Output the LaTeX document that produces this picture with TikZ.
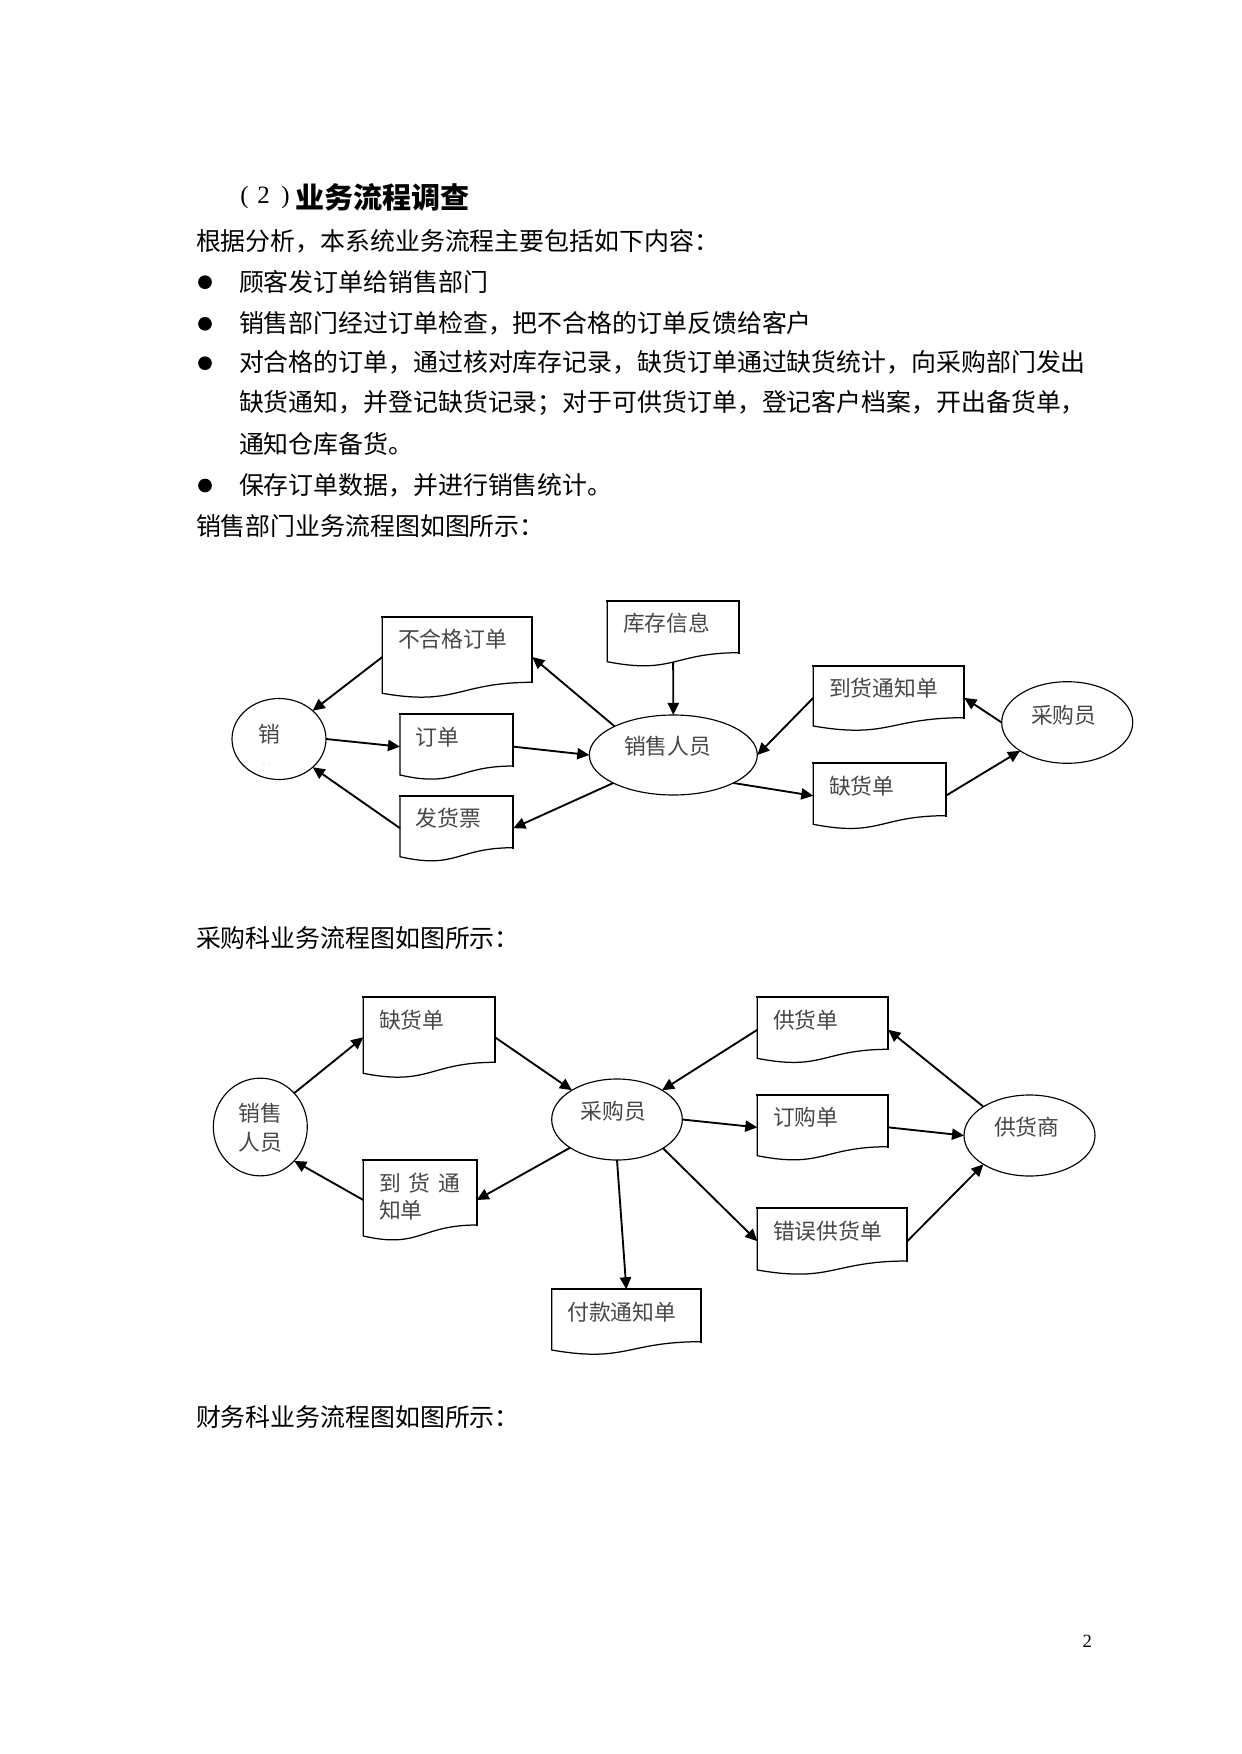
\documentclass[tikz,border=0pt]{standalone}
\usepackage{fontspec}
\setmainfont{Liberation Serif}
\newfontfamily\cjk{Noto Sans CJK SC}
\usetikzlibrary{shapes.geometric,arrows.meta,calc}
\def\pxu{0.4818pt}
\tikzset{
  lbl/.style={inner sep=0pt, outer sep=0pt, font=\cjk\fontsize{10.5pt}{14pt}\selectfont, text=black!72},
  body/.style={inner sep=0pt, outer sep=0pt, anchor=west, font=\cjk\fontsize{12pt}{14pt}\selectfont, text=black},
  ell/.style={ellipse, draw, line width=0.55pt, inner sep=0pt, outer sep=0pt},
  anchorbox/.style={rectangle, inner sep=0pt, outer sep=0pt},
  docthin/.style={line width=0.6pt, line join=miter},
  docthick/.style={line width=1.05pt, line join=miter, line cap=rect},
  flow/.style={line width=0.9pt, -{Triangle[length=5.8pt,width=5.4pt]}},
  bulletdot/.style={circle, fill=black, inner sep=0pt, outer sep=0pt, minimum size=13.7*\pxu},
}
% #1 name, #2 left, #3 top, #4 right, #5 right-bottom y, #6 left-bottom y
\newcommand\docu[6]{%
  \node[anchorbox, anchor=north west, minimum width={(#4-#2)*\pxu}, minimum height={(#6+4-#3)*\pxu}] (#1) at (#2,#3) {};
  \draw[docthin] (#2,#3) -- (#2,#6) .. controls ({(#2+#4)/2},{#6+13}) and ({(#2+#4)/2},{#5}) .. (#4,#5) -- (#4,#3) -- cycle;
  \draw[docthick] (#2,#3) -- (#4,#3) -- (#4,#5);
}
\newcommand\doctext[2]{\node[lbl, anchor=west] (#1-t) at ($(#1.north west)+(15.7,22.5)$) {#2};}
\begin{document}
\begin{tikzpicture}[x=0.4818pt, y=-0.4818pt]
\fill[white] (0,0) rectangle (1241,1754);
\useasboundingbox (0,0) rectangle (1241,1754);

% ---------- text ----------
\node[inner sep=0pt, anchor=west, font=\fontsize{12pt}{14pt}\selectfont] (hnum) at (240,197.3) {(\hspace{4.2pt}2\hspace{5.6pt})};
\node[inner sep=0pt, anchor=west, font=\cjk\bfseries\fontsize{14pt}{16pt}\selectfont] (htitle) at (295,197.3) {业务流程调查};
\node[body] (p1) at (196,241.7) {根据分析，本系统业务流程主要包括如下内容：};
\node[bulletdot] (b1) at (205,282.2) {};
\node[body] (p2) at (239,281.7) {顾客发订单给销售部门};
\node[bulletdot] (b2) at (205,323.8) {};
\node[body] (p3) at (239,323.3) {销售部门经过订单检查，把不合格的订单反馈给客户};
\node[bulletdot] (b3) at (205,363.2) {};
\node[body] (p4) at (239,362.7) {对合格的订单，通过核对库存记录，缺货订单通过缺货统计，向采购部门发出};
\node[body] (p5) at (239,403.3) {缺货通知，并登记缺货记录；对于可供货订单，登记客户档案，开出备货单，};
\node[body] (p6) at (239,444) {通知仓库备货。};
\node[bulletdot] (b4) at (205,485.5) {};
\node[body] (p7) at (239,485) {保存订单数据，并进行销售统计。};
\node[body] (p8) at (196,526) {销售部门业务流程图如图所示：};
\node[body] (p9) at (196,938.3) {采购科业务流程图如图所示：};
\node[body] (p10) at (196,1417.3) {财务科业务流程图如图所示：};
\node[inner sep=0pt, font=\fontsize{9pt}{11pt}\selectfont] (pg) at (1087.2,1641.7) {2};

% ---------- diagram 1 ----------
\docu{d1}{382.3}{616.7}{532.3}{682.3}{693.3}
\docu{d2}{400}{714.3}{513.3}{766}{775}
\docu{d3}{400}{795.7}{513.3}{847.7}{856.7}
\docu{d4}{607.3}{600.7}{739}{652.7}{661.7}
\docu{d5}{813.3}{665.7}{964.3}{717.7}{726}
\docu{d6}{813.3}{763.3}{945.7}{815.7}{824.3}
\doctext{d1}{不合格订单}
\doctext{d2}{订单}
\doctext{d3}{发货票}
\doctext{d4}{库存信息}
\doctext{d5}{到货通知单}
\doctext{d6}{缺货单}

\node[ell, minimum width=94*\pxu, minimum height=81*\pxu] (c1) at (279,739) {};
\node[ell, minimum width=168*\pxu, minimum height=80*\pxu] (sp) at (673.3,755) {};
\node[ell, minimum width=131*\pxu, minimum height=81.6*\pxu] (cg) at (1067.2,722.5) {};
\node[lbl] (c1-t) at (269,734) {销};
\begin{scope}
  \clip (240,745) rectangle (300,764.2);
  \node[lbl] (c1-t2) at (269,775) {售};
\end{scope}
\node[lbl] (sp-t) at (667.7,746.7) {销售人员};
\node[lbl] (cg-t) at (1063.8,715) {采购员};

\draw[flow] (d1.west) -- (c1.40.9);
\draw[flow] (c1.east) -- (d2.west);
\draw[flow] (d2.east) -- (sp.west);
\draw[flow] (d3.west) -- (c1.320.9);
\draw[flow] (sp.205.6) -- (d3.east);
\draw[flow] (sp.154.2) -- (d1.east);
\draw[flow] ($(d4.south)+(0,-3.6)$) -- (sp.north);
\draw[flow] (d5.west) -- (sp.east);
\draw[flow] (cg.west) -- (d5.east);
\draw[flow] (sp.335.4) -- (d6.west);
\draw[flow] (d6.east) -- (cg.211.7);

% ---------- diagram 2 ----------
\docu{e1}{363.3}{997.3}{495}{1062.3}{1073.3}
\docu{e2}{363.3}{1160}{476.7}{1225}{1236}
\docu{e4}{551.7}{1289.3}{701}{1341.7}{1350}
\docu{e5}{757.3}{997.3}{888.3}{1049.3}{1058.3}
\docu{e6}{757.3}{1095}{888.3}{1146.7}{1155.7}
\docu{e7}{757.3}{1208.3}{907.3}{1261}{1270}
\doctext{e1}{缺货单}
\doctext{e4}{付款通知单}
\doctext{e5}{供货单}
\doctext{e6}{订购单}
\doctext{e7}{错误供货单}
\node[lbl, anchor=west] (e2-t1) at ($(e2.north west)+(15.7,22.7)$) {到\hspace{3.85pt}货\hspace{3.85pt}通};
\node[lbl, anchor=west] (e2-t2) at ($(e2.north west)+(15.7,50)$) {知单};

\node[ell, minimum width=94*\pxu, minimum height=97.7*\pxu] (c2) at (260.3,1127) {};
\node[ell, minimum width=130.6*\pxu, minimum height=81*\pxu] (e3) at (617,1119.5) {};
\node[ell, minimum width=131*\pxu, minimum height=81*\pxu] (e8) at (1029.5,1135.5) {};
\node[lbl, align=center] (c2-t) at (260.5,1127.8) {销售\\人员};
\node[lbl] (e3-t) at (613.3,1111) {采购员};
\node[lbl] (e8-t) at (1026.7,1126.7) {供货商};

\draw[flow] (c2.45.3) -- (e1.west);
\draw[flow] (e1.east) -- (e3.147.9);
\draw[flow] (e2.west) -- (c2.315);
\draw[flow] (e3.211.5) -- (e2.east);
\draw[flow] (e3.south) -- (e4.north);
\draw[flow] (e5.west) -- (e3.33);
\draw[flow] (e3.east) -- (e6.west);
\draw[flow] (e6.east) -- (e8.west);
\draw[flow] (e3.328.1) -- (e7.west);
\draw[flow] (e7.east) -- (e8.212.8);
\draw[flow] (e8.148.4) -- (e5.east);
\end{tikzpicture}
\end{document}
